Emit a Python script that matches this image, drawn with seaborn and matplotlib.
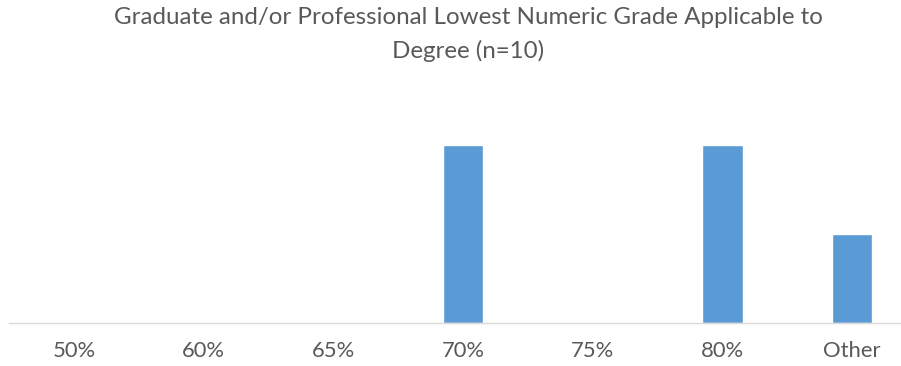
import pandas as pd
import matplotlib
matplotlib.use("Agg")
import matplotlib.pyplot as plt
import seaborn as sns

# values (n=10)
grades = ["50%", "60%", "65%", "70%", "75%", "80%", "Other"]
counts = [0, 0, 0, 4, 0, 4, 2]
title = "Graduate and/or Professional Lowest Numeric Grade Applicable to\nDegree (n=10)"

sns.set_style("white")
plt.rcParams["font.family"] = ["Lato", "DejaVu Sans"]

df = pd.DataFrame({"grade": grades, "count": counts})

fig = plt.figure(figsize=(9.01, 3.66), dpi=100)
# axes runs slightly past the right edge, like the cropped original
ax = fig.add_axes([9 / 901, 43.3 / 366, 908 / 901, 222 / 366])
sns.barplot(data=df, x="grade", y="count", color="#5b9bd5", width=0.31,
            saturation=1, ax=ax)

ax.set_xlim(-0.5, 6.5)
ax.set_ylim(0, 5)
ax.set_yticks([])
ax.set_xlabel("")
ax.set_ylabel("")
for s in ["top", "right", "left"]:
    ax.spines[s].set_visible(False)
ax.spines["bottom"].set_color("#d9d9d9")
ax.spines["bottom"].set_linewidth(1)
ax.tick_params(axis="x", length=0, pad=13, labelsize=15.8, labelcolor="#595959")

fig.text(468 / 901, 1 - 7 / 366, title, ha="center", va="top", fontsize=17.4,
         color="#595959", linespacing=1.65)

fig.savefig("out.png", dpi=100)
